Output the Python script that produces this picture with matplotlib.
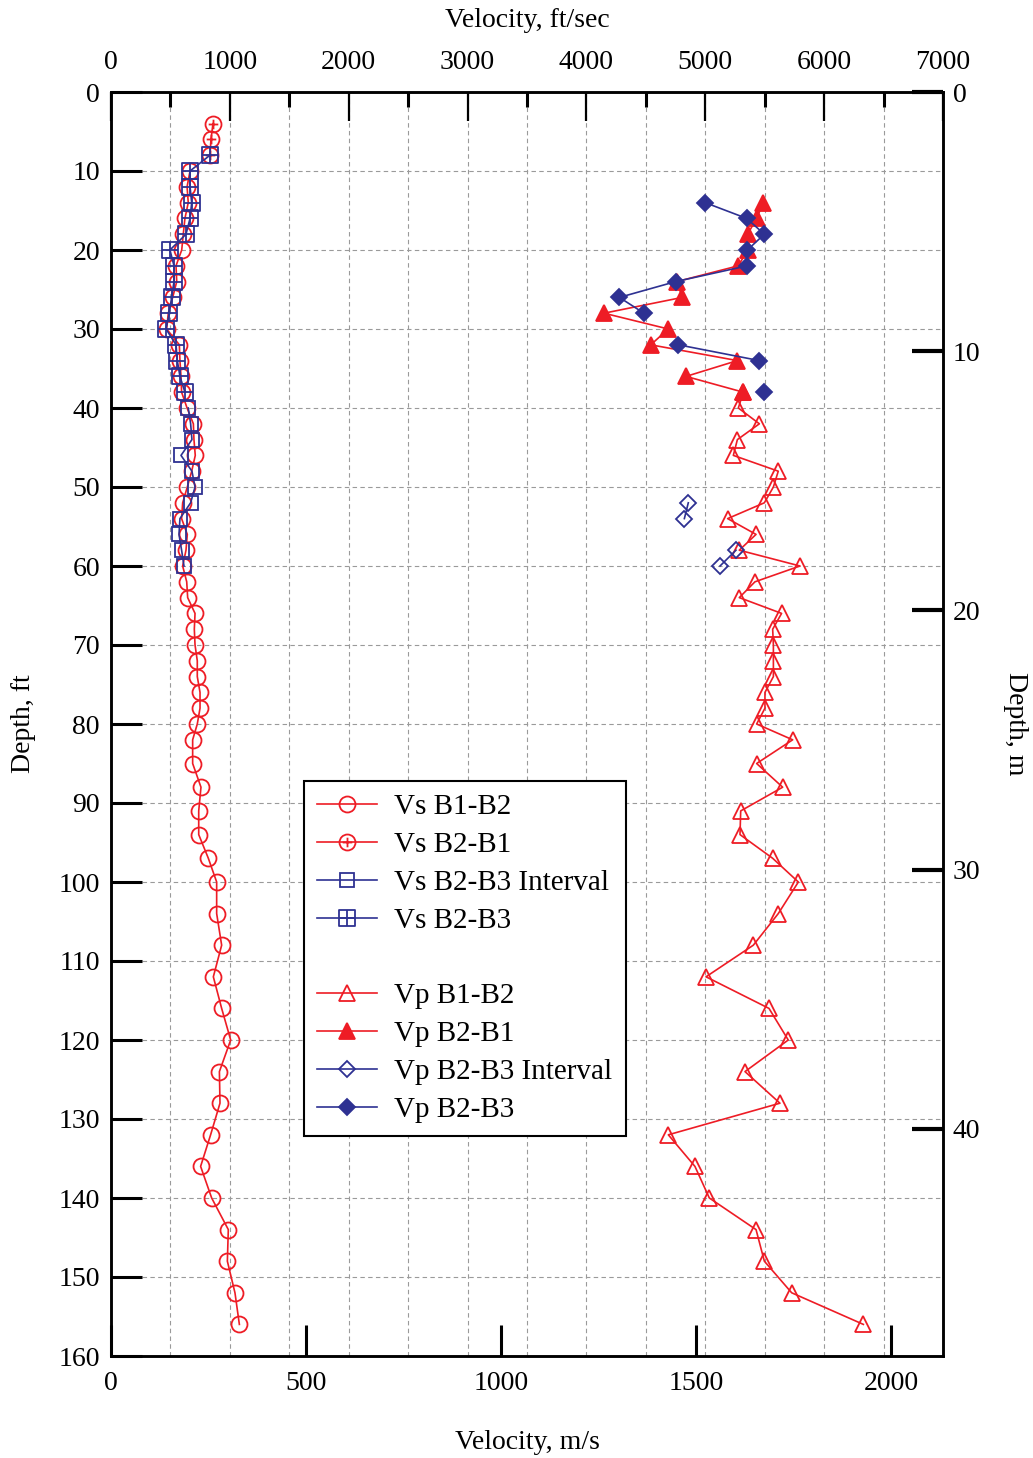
import numpy as np
import matplotlib
matplotlib.use("Agg")
import matplotlib.pyplot as plt
from matplotlib.path import Path
from matplotlib.lines import Line2D

plt.rcParams['font.family'] = ['Liberation Serif', 'DejaVu Serif']

RED = '#EE1C25'
NAVY = '#2E3192'

# ---------------- data (velocity ft/sec, depth ft) ----------------
vs_b1b2_depth = [10, 12, 14, 16, 18, 20, 22, 24, 26, 28, 30, 32, 34, 36, 38, 40, 42, 44, 46, 48,
                 50, 52, 54, 56, 58, 60, 62, 64, 66, 68, 70, 72, 74, 76, 78, 80, 82, 85, 88, 91,
                 94, 97, 100, 104, 108, 112, 116, 120, 124, 128, 132, 136, 140, 144, 148, 152, 156]
vs_b1b2_vel = [665, 640, 650, 622, 608, 595, 547, 553, 519, 482, 468, 575, 580, 589, 594, 640, 693, 698, 709, 679,
               642, 603, 594, 642, 631, 603, 637, 645, 707, 701, 707, 726, 726, 749, 749, 726, 687, 687, 757, 738,
               738, 819, 889, 889, 931, 861, 931, 1007, 912, 917, 838, 754, 847, 987, 979, 1043, 1080]

vs_b2b1_depth = [4, 6, 8]
vs_b2b1_vel = [858, 841, 833]

vs_b2b3_int_depth = [40, 42, 44, 46, 48, 50, 52, 54, 56, 58, 60]
vs_b2b3_int_vel = [650, 670, 681, 589, 681, 707, 670, 580, 572, 594, 614]

vs_b2b3_depth = [8, 10, 12, 14, 16, 18, 20, 22, 24, 26, 28, 30, 32, 34, 36, 38]
vs_b2b3_vel = [833, 665, 665, 679, 665, 631, 496, 530, 530, 510, 491, 463, 547, 558, 580, 622]

vp_b1b2_depth = [38, 40, 42, 44, 46, 48, 50, 52, 54, 56, 58, 60, 62, 64, 66, 68, 70, 72, 74, 76, 78, 80,
                 82, 85, 88, 91, 94, 97, 100, 104, 108, 112, 116, 120, 124, 128, 132, 136, 140, 144,
                 148, 152, 156]
vp_b1b2_vel = [5320, 5278, 5455, 5270, 5236, 5614, 5573, 5497, 5188, 5427, 5286, 5797, 5418, 5286, 5642, 5567,
               5573, 5573, 5573, 5502, 5502, 5432, 5735, 5432, 5651, 5298, 5292, 5567, 5783, 5614, 5404,
               5006, 5536, 5698, 5334, 5628, 4689, 4913, 5034, 5427, 5497, 5727, 6330]

vp_b2b1_depth = [14, 16, 18, 20, 22, 24, 26, 28, 30, 32, 34, 36, 38]
vp_b2b1_vel = [5488, 5432, 5356, 5356, 5278, 4760, 4807, 4148, 4689, 4541, 5270, 4838, 5320]

vp_b2b3_int_depth = [52, 54, 56, 58, 60]
vp_b2b3_int_vel = [4857, 4824, np.nan, 5258, 5124]

vp_b2b3_depth = [14, 16, 18, 20, 22, 24, 26, 28, 30, 32, 34, 36, 38]
vp_b2b3_vel = [4998, 5348, 5497, 5354, 5354, 4751, 4277, 4484, np.nan, 4773, 5455, np.nan, 5497]

legend_labels = ['Vs B1-B2', 'Vs B2-B1', 'Vs B2-B3 Interval', 'Vs B2-B3',
                 'Vp B1-B2', 'Vp B2-B1', 'Vp B2-B3 Interval', 'Vp B2-B3']

FT2M = 0.3048

# ---------------- custom markers ----------------
circ = Path.unit_circle()
plus_c = Path([[-0.6, 0], [0.6, 0], [0, -0.6], [0, 0.6]],
              [Path.MOVETO, Path.LINETO, Path.MOVETO, Path.LINETO])
circle_plus = Path.make_compound_path(circ, plus_c)

sq = Path([[-1, -1], [1, -1], [1, 1], [-1, 1], [-1, -1]],
          [Path.MOVETO, Path.LINETO, Path.LINETO, Path.LINETO, Path.CLOSEPOLY])
cross_s = Path([[-1, 0], [1, 0], [0, -1], [0, 1]],
               [Path.MOVETO, Path.LINETO, Path.MOVETO, Path.LINETO])
square_plus = Path.make_compound_path(sq, cross_s)

# ---------------- figure ----------------
fig = plt.figure(figsize=(10.33, 14.58), dpi=100)
rect = [111 / 1033, 1 - 1356 / 1458, 832 / 1033, 1264 / 1458]
ax = fig.add_axes(rect)

lw = 1.2
mew = 1.3
common = dict(linewidth=lw, markeredgewidth=mew)

h1, = ax.plot(vs_b1b2_vel, vs_b1b2_depth, color=RED, marker='o', markersize=11.5,
              markerfacecolor='none', markeredgecolor=RED, **common)
h2, = ax.plot(vs_b2b1_vel, vs_b2b1_depth, color=RED, marker=circle_plus, markersize=11.5,
              markerfacecolor='none', markeredgecolor=RED, **common)
h3, = ax.plot(vs_b2b3_int_vel, vs_b2b3_int_depth, color=NAVY, marker='s', markersize=10.5,
              markerfacecolor='none', markeredgecolor=NAVY, **common)
h4, = ax.plot(vs_b2b3_vel, vs_b2b3_depth, color=NAVY, marker=square_plus, markersize=11,
              markerfacecolor='none', markeredgecolor=NAVY, **common)
h5, = ax.plot(vp_b1b2_vel, vp_b1b2_depth, color=RED, marker='^', markersize=11.5,
              markerfacecolor='none', markeredgecolor=RED, **common)
h6, = ax.plot(vp_b2b1_vel, vp_b2b1_depth, color=RED, marker='^', markersize=11.5,
              markerfacecolor=RED, markeredgecolor=RED, **common)
h7, = ax.plot(vp_b2b3_int_vel, vp_b2b3_int_depth, color=NAVY, marker='D', markersize=8,
              markerfacecolor='none', markeredgecolor=NAVY, **common)
h8, = ax.plot(vp_b2b3_vel, vp_b2b3_depth, color=NAVY, marker='D', markersize=8.5,
              markerfacecolor=NAVY, markeredgecolor=NAVY, **common)

ax.set_xlim(0, 7000)
ax.set_ylim(160, 0)

FS = 20

# primary axes: ft/sec on top, depth ft on left
ax.xaxis.tick_top()
ax.xaxis.set_label_position('top')
ax.set_xticks(np.arange(0, 7001, 1000))
ax.set_xticks(np.arange(500, 7000, 1000), minor=True)
ax.set_yticks(np.arange(0, 161, 10))
ax.tick_params(axis='x', which='major', direction='in', length=21, width=1.6, labelsize=FS, pad=12,
               top=True, bottom=False)
ax.tick_params(axis='x', which='minor', direction='in', length=11, width=2.2, top=True, bottom=False)
ax.tick_params(axis='y', which='major', direction='in', length=22, width=2.2, labelsize=FS, pad=8,
               left=True, right=False)

for s in ax.spines.values():
    s.set_linewidth(1.8)

# grid
for xv in np.arange(500, 7000, 500):
    ax.axvline(xv, color='#9a9a9a', linestyle=(0, (4, 3)), linewidth=0.8, zorder=0)
for yv in np.arange(10, 160, 10):
    ax.axhline(yv, color='#9a9a9a', linestyle=(0, (4, 3)), linewidth=0.8, zorder=0)

ax.set_xlabel('Velocity, ft/sec', fontsize=FS, labelpad=17)
ax.set_ylabel('Depth, ft', fontsize=FS, labelpad=16)

# secondary bottom axis: m/s
secx = ax.secondary_xaxis('bottom', functions=(lambda v: v * FT2M, lambda v: v / FT2M))
secx.set_xticks(np.arange(0, 2001, 500))
secx.tick_params(direction='in', length=22, width=2.2, labelsize=FS, pad=11)
secx.set_xlabel('Velocity, m/s', fontsize=FS, labelpad=24)

# right axis: depth m
axr = ax.twinx()
axr.set_ylim(160 * FT2M, 0)
axr.set_yticks(np.arange(0, 41, 10))
axr.tick_params(axis='y', direction='in', length=22, width=3, labelsize=FS, pad=7,
                right=True, left=False)
axr.set_ylabel('Depth, m', fontsize=FS, rotation=270, labelpad=34)
for s in axr.spines.values():
    s.set_linewidth(1.8)

# legend
blank = Line2D([], [], color='none', marker=None)
handles = [h1, h2, h3, h4, blank, h5, h6, h7, h8]
labels = legend_labels[:4] + [' '] + legend_labels[4:]
leg = axr.legend(handles, labels, loc='upper left', bbox_to_anchor=(0.232, 0.455),
                 borderaxespad=0, fontsize=21, frameon=True, fancybox=False,
                 edgecolor='black', framealpha=1, handlelength=2.05, handletextpad=0.6,
                 labelspacing=0.39, borderpad=0.45)
leg.get_frame().set_linewidth(1.5)

fig.savefig('out.png', dpi=100)
